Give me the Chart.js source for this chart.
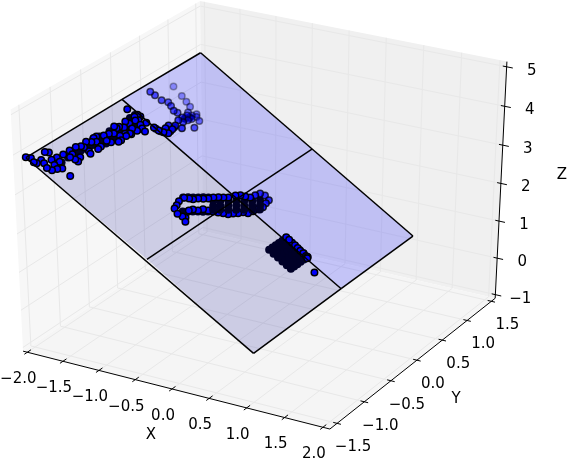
<!DOCTYPE html>
<html>
<head>
<meta charset="utf-8">
<style>
  html, body { margin: 0; padding: 0; background: #fff; }
  canvas { display: block; }
</style>
<script src="https://cdn.jsdelivr.net/npm/chart.js@4"></script>
</head>
<body>
<canvas id="chart" width="567" height="461"></canvas>
<script>
// axis limits and ticks
const xLim = [-2.06, 2.09];
const yLim = [-1.63, 1.58];
const zLim = [-1.1, 5.13];
const xTicks = [-2, -1.5, -1, -0.5, 0, 0.5, 1, 1.5, 2];
const yTicks = [-1.5, -1, -0.5, 0, 0.5, 1, 1.5];
const zTicks = [-1, 0, 1, 2, 3, 4, 5];
const xTickLabels = ['\u22122.0', '\u22121.5', '\u22121.0', '\u22120.5', '0.0', '0.5', '1.0', '1.5', '2.0'];
const yTickLabels = ['\u22121.5', '\u22121.0', '\u22120.5', '0.0', '0.5', '1.0', '1.5'];
const zTickLabels = ['\u22121', '0', '1', '2', '3', '4', '5'];

// the tilted plane, 3 by 3 corners, row by row in y
const planeY = [-1.5, 0.1, 1.5];
const planeX = [[-2, -0.405, 0.995], [-2, -0.42, 0.99], [-2, -0.43, 0.99]];
const planeZ = [[3.84, 1.96, 0.188], [3.87, 1.95, 0.19], [3.87, 1.93, 0.19]];

// scatter points
const streakX = [-2, -1.965, -1.913, -1.889, -1.894, -1.851, -1.948, -1.918, -1.791, -1.746, -1.728, -1.702, -1.84, -1.831, -1.779, -1.78, -1.825, -1.828, -1.777, -1.716, -1.682, -1.804, -1.779, -1.716, -1.81, -1.758, -1.685, -1.785, -1.774, -1.764, -1.712, -1.737, -1.638, -1.685, -1.8, -1.773, -1.736, -1.744, -1.784, -1.683, -1.637, -1.627, -1.583, -1.65, -1.677, -1.778, -1.78, -1.747, -1.738, -1.596,
  -1.816, -1.807, -1.692, -1.674, -1.638, -1.647, -1.638, -1.771, -1.824, -1.763, -1.71, -1.683, -1.725, -1.67];
const streakY = [-1.5, -1.461, -1.478, -1.459, -1.383, -1.388, -1.257, -1.228, -1.416, -1.389, -1.326, -1.275, -1.281, -1.206, -1.223, -1.309, -1.109, -1, -1.017, -1.046, -1.039, -0.841, -0.822, -0.818, -0.623, -0.64, -0.703, -0.691, -0.497, -0.423, -0.526, -0.372, -0.416, -0.334, -0.288, -0.237, -0.198, -0.1, -0.117, -0.129, -0.101, -0.027, -0.032, -0.208, -0.259, 0.034, 0.089, 0.096, -0.003, -1.277,
  -0.742, -0.581, -0.648, -0.499, -0.373, -0.275, -0.2, -0.282, -0.903, -1.073, -0.971, -0.834, 0.038, -0.001];
const streakZ = [3.85, 3.81, 3.74, 3.71, 3.72, 3.66, 3.78, 3.75, 3.59, 3.53, 3.51, 3.48, 3.65, 3.64, 3.57, 3.57, 3.63, 3.63, 3.57, 3.49, 3.45, 3.6, 3.57, 3.49, 3.61, 3.55, 3.45, 3.58, 3.57, 3.55, 3.49, 3.52, 3.39, 3.45, 3.6, 3.56, 3.52, 3.53, 3.58, 3.45, 3.39, 3.38, 3.33, 3.41, 3.44, 3.57, 3.57, 3.53, 3.52, 3.34,
  3.62, 3.61, 3.46, 3.44, 3.39, 3.41, 3.39, 3.56, 3.63, 3.55, 3.48, 3.45, 3.5, 3.44];

const handX = [-1.656, -1.569, -1.516, -1.472, -1.436, -1.45, -1.47, -1.507, -1.497, -1.503, -1.495, -1.468, -1.45, -1.372, -1.337, -1.445, -1.406, -1.498, -1.454, -1.433, -1.424, -1.923, -1.861, -1.839, -1.779, -1.725, -1.673, -1.613, -1.574, -1.703, -1.624, -1.558, -1.516, -1.886];
const handY = [0.084, 0.106, 0.121, 0.149, 0.188, 0.276, 0.354, 0.283, 0.217, 0.521, 0.595, 0.646, 0.709, 0.657, 0.523, 0.546, 0.39, 0.444, 0.472, 0.599, 0.674, 0.494, 0.498, 0.799, 0.51, 0.558, 0.541, 0.512, 0.529, 0.772, 0.752, 0.733, 0.641, 0.046];
const handZ = [3.42, 3.31, 3.24, 3.19, 3.14, 3.16, 3.18, 3.23, 3.22, 3.22, 3.21, 3.18, 3.16, 3.06, 3.02, 3.15, 3.1, 3.22, 3.16, 3.14, 3.13, 3.75, 3.68, 3.65, 3.57, 3.5, 3.44, 3.36, 3.31, 3.48, 3.38, 3.29, 3.24, 3.71];

const bandX = [-0.755, -0.717, -0.686, -0.665, -0.636, -0.607, -0.586, -0.557, -0.528, -0.499, -0.475, -0.446, -0.409, -0.371, -0.359, -0.348, -0.301, -0.234, -0.226, -0.668, -0.613, -0.551, -0.586, -0.63, -0.616, -0.578, -0.558, -0.519, -0.481, -0.444, -0.406, -0.368, -0.348, -0.319, -0.299, -0.261, -0.248, -0.237, -0.225, -0.735, -0.758, -0.72];
const bandY = [-0.415, -0.376, -0.346, -0.284, -0.232, -0.181, -0.118, -0.066, -0.015, 0.036, 0.132, 0.183, 0.222, 0.262, 0.337, 0.412, 0.439, 0.421, 0.355, -0.643, -0.627, -0.657, -0.609, -0.495, -0.442, -0.403, -0.339, -0.3, -0.261, -0.221, -0.181, -0.142, -0.079, -0.027, 0.036, 0.075, 0.149, 0.225, 0.3, -0.57, -0.501, -0.626];
const bandZ = [2.32, 2.28, 2.24, 2.21, 2.17, 2.14, 2.11, 2.08, 2.04, 2, 1.97, 1.94, 1.89, 1.84, 1.83, 1.81, 1.75, 1.67, 1.66, 2.16, 2.1, 2.02, 2.06, 2.12, 2.1, 2.05, 2.03, 1.98, 1.93, 1.88, 1.84, 1.79, 1.76, 1.73, 1.7, 1.65, 1.64, 1.62, 1.61, 2.28, 2.31, 2.26];

const blobEdgeX = [0.175, 0.215, 0.255, 0.295, 0.335, 0.375, 0.415, 0.455, 0.475, 0.485, 0.65];
const blobEdgeY = [0.19, 0.19, 0.19, 0.19, 0.185, 0.18, 0.18, 0.175, 0.175, 0.16, 0.068];
const blobEdgeZ = [1.1, 1.05, 0.99, 0.94, 0.89, 0.84, 0.79, 0.74, 0.72, 0.71, 0.5];

// places where the points overlap so much that only the dark edges are left
const coreX = [-0.56, -0.52, -0.473, -0.426, -0.38, -0.333, -0.287,
  -0.761, -0.732, -0.703, -0.674, -0.645, -0.615, -0.656, -0.627, -0.598, -0.569, -0.54, -0.51,
  -1.771, -1.763, -1.754, -1.754, -1.745, -1.745, -1.745, -1.736, -1.727, -1.718, -1.718, -1.709, -1.691, -1.629, -1.79, -1.79, -1.788, -1.761, -1.773, -1.805, -1.791, -1.782, -1.708, -1.692, -1.693,
  -1.55, -1.497, -1.461, -1.443, -1.458, -1.479, -1.461,
  0.18, 0.24, 0.3, 0.36, 0.42, 0.475, 0.18, 0.24, 0.3, 0.36, 0.42, 0.475, 0.18, 0.24, 0.3, 0.36, 0.42, 0.475, 0.18, 0.24, 0.3, 0.36, 0.42, 0.475, 0.18, 0.24, 0.3, 0.36, 0.42, 0.475, 0.18, 0.24, 0.3, 0.36, 0.42, 0.475];
const coreY = [-0.153, -0.081, 0.001, 0.083, 0.165, 0.247, 0.329,
  -0.425, -0.374, -0.323, -0.272, -0.22, -0.169, -0.568, -0.517, -0.466, -0.415, -0.363, -0.312,
  -0.975, -0.9, -0.825, -0.739, -0.664, -0.577, -0.49, -0.416, -0.341, -0.266, -0.18, -0.105, -0.042, -0.038, -0.03, 0.056, -1.265, -1.214, -1.094, -0.635, -0.55, -0.389, -0.679, -0.562, -0.421,
  0.115, 0.13, 0.169, 0.232, 0.32, 0.539, 0.602,
  -0.13, -0.13, -0.13, -0.13, -0.13, -0.13, -0.07, -0.07, -0.07, -0.07, -0.07, -0.07, -0.01, -0.01, -0.01, -0.01, -0.01, -0.01, 0.05, 0.05, 0.05, 0.05, 0.05, 0.05, 0.11, 0.11, 0.11, 0.11, 0.11, 0.11, 0.18, 0.18, 0.18, 0.18, 0.18, 0.18];
const coreZ = [2.07, 2.02, 1.96, 1.9, 1.84, 1.78, 1.73,
  2.33, 2.3, 2.26, 2.22, 2.19, 2.15, 2.15, 2.11, 2.08, 2.04, 2, 1.97,
  3.56, 3.55, 3.54, 3.54, 3.53, 3.53, 3.53, 3.52, 3.51, 3.5, 3.5, 3.48, 3.46, 3.38, 3.59, 3.59, 3.58, 3.55, 3.56, 3.6, 3.59, 3.58, 3.48, 3.46, 3.46,
  3.28, 3.22, 3.17, 3.15, 3.17, 3.19, 3.17,
  1.09, 1.01, 0.94, 0.86, 0.79, 0.72, 1.09, 1.01, 0.94, 0.86, 0.79, 0.72, 1.09, 1.01, 0.94, 0.86, 0.79, 0.72, 1.09, 1.01, 0.94, 0.86, 0.79, 0.72, 1.09, 1.01, 0.94, 0.86, 0.79, 0.72, 1.09, 1.01, 0.94, 0.86, 0.79, 0.72];

// middle of the band, painted over the blue points
const bandCoreX = [-0.525, -0.485, -0.438, -0.391, -0.345, -0.298, -0.252, -0.49, -0.45, -0.403, -0.356, -0.31, -0.263, -0.217];
const bandCoreY = [-0.201, -0.129, -0.047, 0.035, 0.117, 0.199, 0.281, -0.249, -0.177, -0.095, -0.013, 0.069, 0.151, 0.233];
const bandCoreZ = [2, 1.95, 1.9, 1.84, 1.78, 1.72, 1.66, 1.96, 1.91, 1.85, 1.79, 1.73, 1.67, 1.62];

// camera, same as the default 3d view: elev 30, azim -60, dist 10
const el = 30 * Math.PI / 180;
const az = -60 * Math.PI / 180;
const n = [Math.cos(el) * Math.cos(az), Math.cos(el) * Math.sin(az), Math.sin(el)];
const u = [-Math.sin(az), Math.cos(az), 0];
const v = [-Math.sin(el) * Math.cos(az), -Math.sin(el) * Math.sin(az), Math.cos(el)];

function project(x, y, z) {
    const c = [
        (x - xLim[0]) / (xLim[1] - xLim[0]) - 0.5,
        (y - yLim[0]) / (yLim[1] - yLim[0]) - 0.5,
        (z - zLim[0]) / (zLim[1] - zLim[0]) - 0.5
    ];
    const dot = a => a[0] * c[0] + a[1] * c[1] + a[2] * c[2];
    const w = 10 - dot(n);
    return { x: dot(u) / w, y: dot(v) / w, w: w };
}

const datasets = [];

function addShape(corners, color) {
    datasets.push({
        showLine: true, fill: 'shape', backgroundColor: color, borderWidth: 0, pointRadius: 0, tension: 0,
        data: corners.map(p => project(p[0], p[1], p[2]))
    });
}

function addLine(a, b, color, width) {
    datasets.push({
        showLine: true, fill: false, borderColor: color, borderWidth: width, pointRadius: 0, tension: 0,
        data: [project(a[0], a[1], a[2]), project(b[0], b[1], b[2])]
    });
}

const [x0, x1] = xLim, [y0, y1] = yLim, [z0, z1] = zLim;

// panes
addShape([[x0, y0, z0], [x0, y1, z0], [x0, y1, z1], [x0, y0, z1], [x0, y0, z0]], 'rgb(247,247,247)');
addShape([[x0, y1, z0], [x1, y1, z0], [x1, y1, z1], [x0, y1, z1], [x0, y1, z0]], 'rgb(240,240,240)');
addShape([[x0, y0, z0], [x1, y0, z0], [x1, y1, z0], [x0, y1, z0], [x0, y0, z0]], 'rgb(245,245,245)');

// grid
const gridColor = 'rgb(232,232,232)';
xTicks.forEach(t => {
    addLine([t, y0, z0], [t, y1, z0], gridColor, 1);
    addLine([t, y1, z0], [t, y1, z1], gridColor, 1);
});
yTicks.forEach(t => {
    addLine([x0, t, z0], [x1, t, z0], gridColor, 1);
    addLine([x0, t, z0], [x0, t, z1], gridColor, 1);
});
zTicks.forEach(t => {
    addLine([x0, y0, t], [x0, y1, t], gridColor, 1);
    addLine([x0, y1, t], [x1, y1, t], gridColor, 1);
});

// plane patches, front half greyer than the back half
const patchColors = ['rgba(40,40,160,0.2)', 'rgba(0,0,255,0.2)'];
const corner = (r, c) => [planeX[r][c], planeY[r], planeZ[r][c]];
for (let r = 0; r < 2; r++) {
    for (let c = 0; c < 2; c++) {
        addShape([corner(r, c), corner(r, c + 1), corner(r + 1, c + 1), corner(r + 1, c), corner(r, c)], patchColors[r]);
    }
}

// points
const wNear = 10.11, wFar = 10.26;
function shade(w) {
    const t = Math.min(1, Math.max(0, (w - wNear) / (wFar - wNear)));
    return 1 - 0.7 * t;
}

const darkPoint = { pointRadius: 4, pointBorderWidth: 0, pointBackgroundColor: 'rgb(0,0,40)', showLine: false };

datasets.push({ ...darkPoint, data: coreX.map((x, i) => project(x, coreY[i], coreZ[i])) });

const points = [];
[[streakX, streakY, streakZ], [handX, handY, handZ], [bandX, bandY, bandZ], [blobEdgeX, blobEdgeY, blobEdgeZ]].forEach(s => {
    s[0].forEach((x, i) => points.push(project(x, s[1][i], s[2][i])));
});
points.sort((a, b) => b.w - a.w);
datasets.push({
    data: points, pointRadius: 3.25, pointBorderWidth: 1.5, showLine: false,
    pointBackgroundColor: points.map(p => 'rgba(0,0,255,' + shade(p.w).toFixed(2) + ')'),
    pointBorderColor: points.map(p => 'rgba(0,0,0,' + shade(p.w).toFixed(2) + ')')
});

datasets.push({ ...darkPoint, data: bandCoreX.map((x, i) => project(x, bandCoreY[i], bandCoreZ[i])) });

// plane outline
for (let r = 0; r < 3; r++) addLine(corner(r, 0), corner(r, 2), '#000', 1.5);
for (let c = 0; c < 3; c++) {
    addLine(corner(0, c), corner(1, c), '#000', 1.5);
    addLine(corner(1, c), corner(2, c), '#000', 1.5);
}

// axes and tick marks
addLine([x0, y0, z0], [x1, y0, z0], '#000', 1);
addLine([x1, y0, z0], [x1, y1, z0], '#000', 1);
addLine([x1, y1, z0], [x1, y1, z1], '#000', 1);
xTicks.forEach(t => addLine([t, y0 - 0.05, z0], [t, y0 + 0.06, z0], '#000', 1));
yTicks.forEach(t => addLine([x1 - 0.05, t, z0], [x1 + 0.05, t, z0], '#000', 1));
zTicks.forEach(t => addLine([x1 - 0.05, y1, t], [x1 + 0.08, y1, t], '#000', 1));

// text plugin, label pixel offsets are from the tick on the axis
const xLabelOffset = [-9, 27], yLabelOffset = [16, 24], zLabelOffset = [25, 4];
const axisLabels = [['X', 151, 435], ['Y', 456, 399], ['Z', 562, 175]];

const tickText = {
    id: 'tickText',
    afterDraw(chart) {
        const ctx = chart.ctx, sx = chart.scales.x, sy = chart.scales.y;
        ctx.save();
        ctx.fillStyle = '#000';
        ctx.font = '15px "DejaVu Sans"';
        ctx.textAlign = 'center';
        ctx.textBaseline = 'middle';
        const put = (text, p, off) => ctx.fillText(text, sx.getPixelForValue(p.x) + off[0], sy.getPixelForValue(p.y) + off[1]);
        xTicks.forEach((t, i) => put(xTickLabels[i], project(t, y0, z0), xLabelOffset));
        yTicks.forEach((t, i) => put(yTickLabels[i], project(x1, t, z0), yLabelOffset));
        zTicks.forEach((t, i) => put(zTickLabels[i], project(x1, y1, t), zLabelOffset));
        axisLabels.forEach(a => ctx.fillText(a[0], a[1], a[2]));
        ctx.restore();
    }
};

new Chart(document.getElementById('chart').getContext('2d'), {
    type: 'scatter',
    data: { datasets: datasets.slice().reverse() }, // first dataset is painted last
    options: {
        responsive: false,
        animation: false,
        layout: { padding: 0, autoPadding: false },
        scales: {
            x: { type: 'linear', display: false, min: -0.0742, max: 0.0859 },
            y: { type: 'linear', display: false, min: -0.09177, max: 0.07526 }
        },
        plugins: {
            legend: { display: false },
            tooltip: { enabled: false },
            filler: { drawTime: 'beforeDatasetDraw' }
        }
    },
    plugins: [tickText]
});
</script>
</body>
</html>
